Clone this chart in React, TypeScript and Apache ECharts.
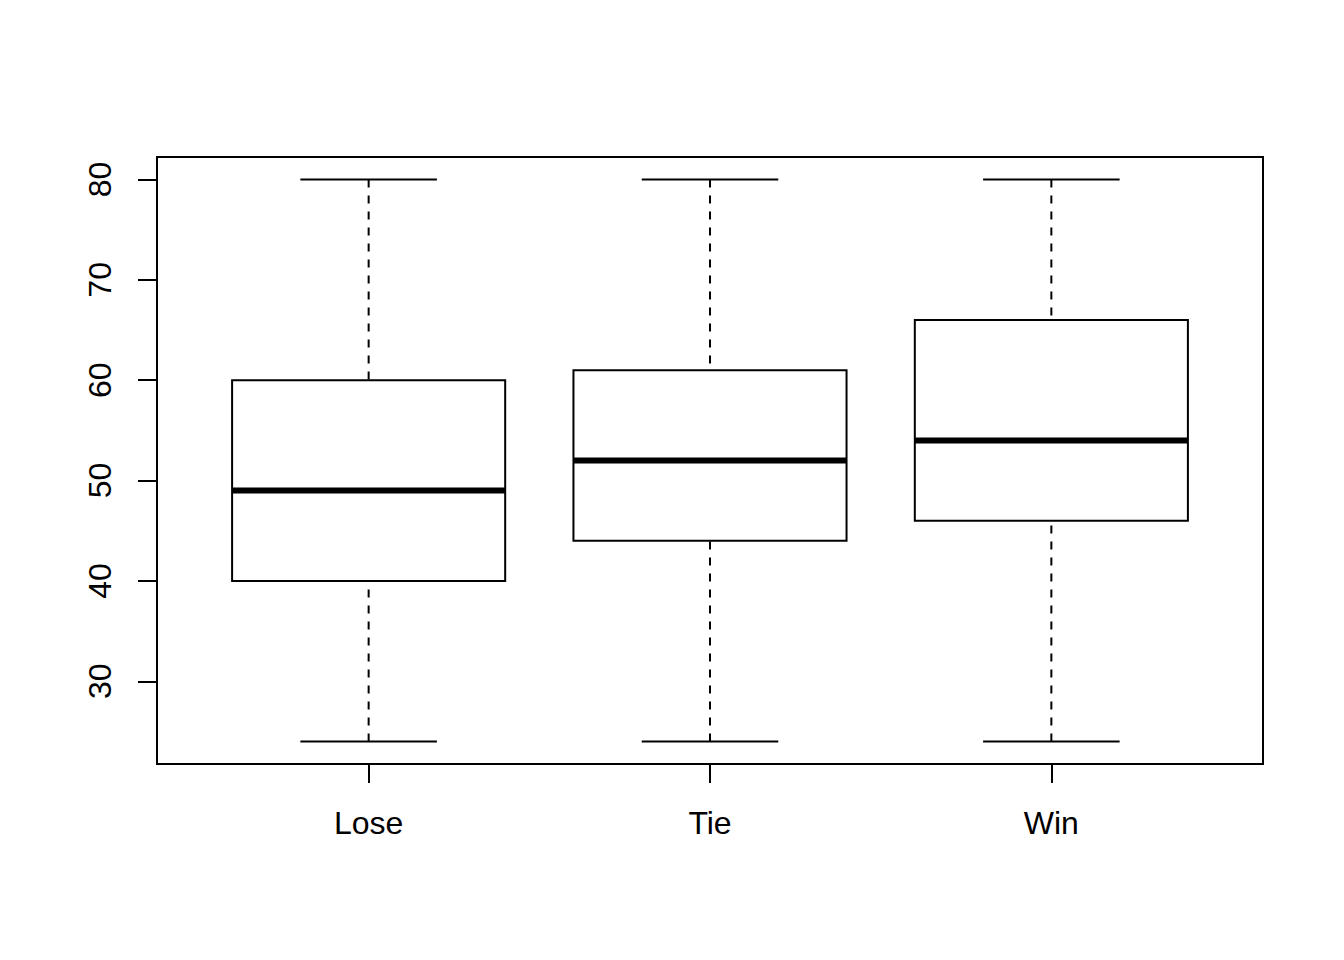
import React, { useEffect, useRef } from "react";
import * as echarts from "echarts";

const categories = ["Lose", "Tie", "Win"];
const mins = [24, 24, 24];
const q1s = [40, 44, 46];
const medians = [49, 52, 54];
const q3s = [60, 61, 66];
const maxs = [80, 80, 80];
const yTicks = [30, 40, 50, 60, 70, 80];
const xTicks = [1, 2, 3];

export default function App() {
  const ref = useRef<HTMLDivElement>(null);
  useEffect(() => {
    if (!ref.current) return;
    const chart = echarts.init(ref.current, undefined, { renderer: "svg" });
    const data = categories.map((c, i) => [i + 1, mins[i], q1s[i], medians[i], q3s[i], maxs[i]]);
    const font = "'Liberation Sans', Arial, sans-serif";
    chart.setOption({
      animation: false,
      backgroundColor: "#ffffff",
      grid: {
        left: 157,
        right: 81,
        top: 157,
        bottom: 196,
        show: true,
        borderColor: "#000",
        borderWidth: 2,
        backgroundColor: "transparent",
      },
      xAxis: {
        type: "value",
        min: 0.38,
        max: 3.62,
        splitLine: { show: false },
        axisLine: { show: false },
        axisTick: {
          show: true,
          length: 19,
          customValues: xTicks,
          lineStyle: { color: "#000", width: 2 },
        },
        axisLabel: {
          customValues: xTicks,
          formatter: (v: number) => categories[Math.round(v) - 1] ?? "",
          color: "#000",
          fontSize: 32,
          fontFamily: font,
          margin: 43,
        },
      },
      yAxis: {
        type: "value",
        min: 21.76,
        max: 82.24,
        splitLine: { show: false },
        axisLine: { show: false },
        axisTick: {
          show: true,
          length: 19,
          customValues: yTicks,
          lineStyle: { color: "#000", width: 2 },
        },
        axisLabel: {
          customValues: yTicks,
          rotate: 90,
          color: "#000",
          fontSize: 32,
          fontFamily: font,
          margin: 41,
        },
      },
      series: [
        {
          type: "custom",
          data,
          encode: { x: 0, y: [1, 2, 3, 4, 5] },
          renderItem: (params: any, api: any) => {
            const x = api.value(0);
            const mn = api.value(1);
            const a = api.value(2);
            const md = api.value(3);
            const b = api.value(4);
            const mx = api.value(5);
            const boxW = api.size([0.8, 0])[0];
            const capW = api.size([0.4, 0])[0];
            const pMin = api.coord([x, mn]);
            const pQ1 = api.coord([x, a]);
            const pMed = api.coord([x, md]);
            const pQ3 = api.coord([x, b]);
            const pMax = api.coord([x, mx]);
            const cx = pMin[0];
            const dashStyle = { stroke: "#000", lineWidth: 2, lineDash: [8, 8], fill: "none" };
            const solid = { stroke: "#000", lineWidth: 2, fill: "none" };
            return {
              type: "group",
              children: [
                { type: "line", shape: { x1: cx, y1: pMin[1], x2: cx, y2: pQ1[1] }, style: dashStyle },
                { type: "line", shape: { x1: cx, y1: pMax[1], x2: cx, y2: pQ3[1] }, style: dashStyle },
                { type: "line", shape: { x1: cx - capW / 2, y1: pMin[1], x2: cx + capW / 2, y2: pMin[1] }, style: solid },
                { type: "line", shape: { x1: cx - capW / 2, y1: pMax[1], x2: cx + capW / 2, y2: pMax[1] }, style: solid },
                {
                  type: "rect",
                  shape: { x: cx - boxW / 2, y: pQ3[1], width: boxW, height: pQ1[1] - pQ3[1] },
                  style: { stroke: "#000", lineWidth: 2, fill: "#fff" },
                },
                {
                  type: "line",
                  shape: { x1: cx - boxW / 2, y1: pMed[1], x2: cx + boxW / 2, y2: pMed[1] },
                  style: { stroke: "#000", lineWidth: 6, lineCap: "butt" },
                },
              ],
            };
          },
        },
      ],
    });
    return () => chart.dispose();
  }, []);
  return (
    <div
      ref={ref}
      style={{ position: "fixed", left: 0, top: 0, width: 1344, height: 960, background: "#fff" }}
    />
  );
}
